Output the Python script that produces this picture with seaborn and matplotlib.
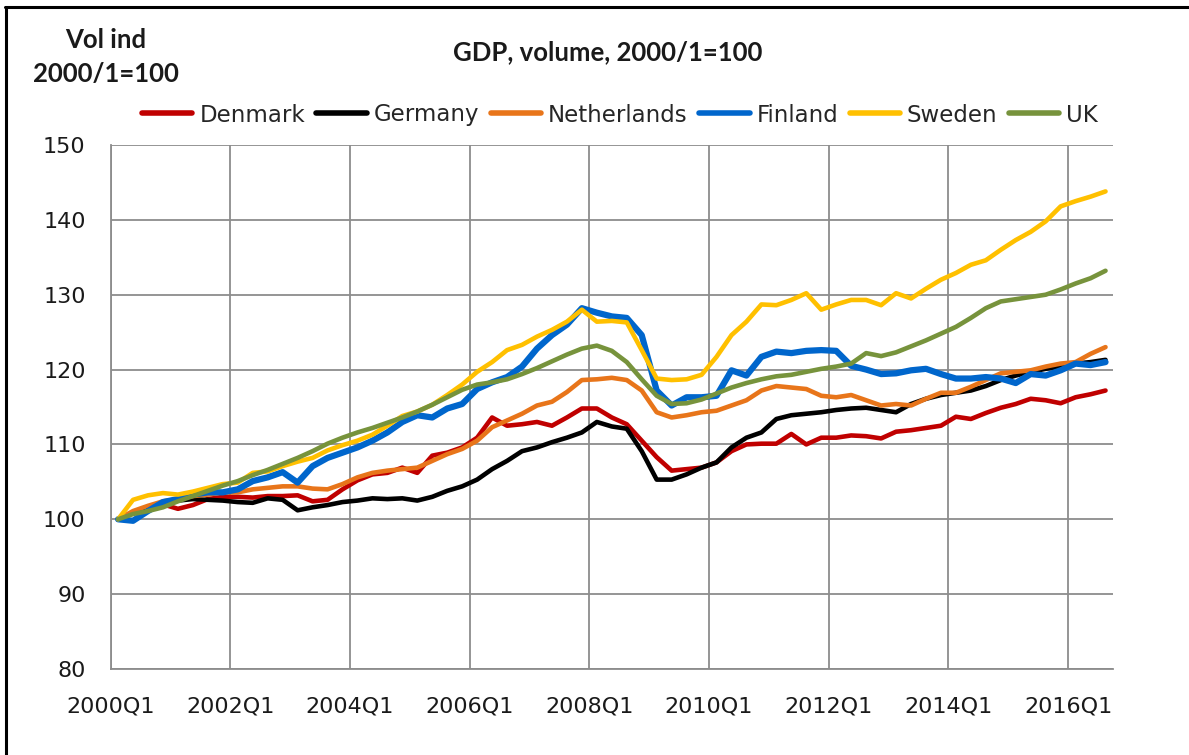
import numpy as np
import pandas as pd
import matplotlib.pyplot as plt
import matplotlib.transforms as mtransforms
from matplotlib.lines import Line2D
from matplotlib.ticker import FixedLocator
import seaborn as sns

# quarterly categories 2000Q1 .. 2016Q3
quarters = [f"{y}Q{q}" for y in range(2000, 2017) for q in range(1, 5)][:67]

countries = ['Denmark', 'Germany', 'Netherlands', 'Finland', 'Sweden', 'UK']

denmark = [100, 100.9, 101.6, 102, 101.4, 101.9, 102.7, 103, 103, 102.9,
           103.1, 103.1, 103.2, 102.4, 102.6, 104, 105.2, 106, 106.2, 106.9,
           106.2, 108.5, 108.9, 109.6, 110.9, 113.6, 112.5, 112.7, 113, 112.5,
           113.6, 114.8, 114.8, 113.6, 112.7, 110.5, 108.3, 106.5, 106.7, 106.9,
           107.6, 109.1, 110, 110.1, 110.1, 111.4, 110, 110.9, 110.9, 111.2,
           111.1, 110.8, 111.7, 111.9, 112.2, 112.5, 113.7, 113.4, 114.2, 114.9,
           115.4, 116.1, 115.9, 115.5, 116.3, 116.7, 117.2]
germany = [100, 100.8, 101.5, 102.2, 102.5, 102.7, 102.6, 102.5, 102.3, 102.2,
           102.8, 102.6, 101.2, 101.6, 101.9, 102.3, 102.5, 102.8, 102.7, 102.8,
           102.5, 103, 103.8, 104.4, 105.3, 106.7, 107.8, 109.1, 109.6, 110.3,
           110.9, 111.6, 113, 112.4, 112.1, 109.1, 105.3, 105.3, 106, 106.9,
           107.6, 109.6, 110.9, 111.6, 113.4, 113.9, 114.1, 114.3, 114.6, 114.8,
           114.9, 114.6, 114.3, 115.4, 116.1, 116.6, 116.9, 117.2, 117.8, 118.6,
           119.2, 119.7, 120.1, 120.4, 120.8, 121, 121.3]
netherlands = [100, 101.1, 101.8, 102.4, 102.7, 103.1, 103.3, 103.6, 103.6, 104,
               104.2, 104.4, 104.4, 104.1, 104, 104.7, 105.6, 106.2, 106.5, 106.7,
               106.9, 107.8, 108.7, 109.4, 110.5, 112.3, 113.2, 114.1, 115.2, 115.7,
               117, 118.6, 118.7, 118.9, 118.6, 117.2, 114.3, 113.6, 113.9, 114.3,
               114.5, 115.2, 115.9, 117.2, 117.8, 117.6, 117.4, 116.5, 116.3, 116.6,
               115.9, 115.2, 115.4, 115.2, 116.1, 116.9, 116.9, 117.7, 118.6, 119.5,
               119.7, 119.9, 120.4, 120.8, 121, 122.1, 123]
finland = [100, 99.8, 101.1, 102.3, 102.7, 103.3, 103.6, 103.6, 104, 105.1,
           105.6, 106.3, 104.9, 107.1, 108.2, 108.9, 109.6, 110.5, 111.6, 113,
           113.9, 113.6, 114.8, 115.4, 117.4, 118.3, 119, 120.4, 122.8, 124.6,
           126, 128.2, 127.6, 127.1, 126.9, 124.6, 117.2, 115.2, 116.3, 116.3,
           116.5, 119.9, 119.2, 121.7, 122.4, 122.2, 122.5, 122.6, 122.5, 120.5,
           120, 119.4, 119.5, 119.9, 120.1, 119.4, 118.8, 118.8, 119, 118.8,
           118.2, 119.4, 119.2, 119.9, 120.8, 120.6, 121]
sweden = [100, 102.6, 103.2, 103.5, 103.3, 103.7, 104.2, 104.7, 104.9, 106.2,
          106.4, 107.1, 107.7, 108.2, 109.2, 109.9, 110.5, 111.3, 112.5, 113.8,
          114.4, 115.3, 116.6, 118, 119.7, 121, 122.6, 123.3, 124.4, 125.3,
          126.4, 128, 126.4, 126.5, 126.3, 122.6, 118.8, 118.6, 118.7, 119.3,
          121.7, 124.6, 126.4, 128.7, 128.6, 129.3, 130.2, 128, 128.7, 129.3,
          129.3, 128.6, 130.2, 129.5, 130.8, 132, 132.9, 134, 134.6, 136,
          137.3, 138.4, 139.8, 141.8, 142.5, 143.1, 143.8]
uk = [100, 100.7, 101.1, 101.6, 102.4, 103.1, 103.8, 104.5, 105.1, 105.9,
      106.6, 107.4, 108.2, 109.1, 110.1, 110.9, 111.6, 112.2, 112.9, 113.6,
      114.4, 115.3, 116.3, 117.3, 118, 118.3, 118.7, 119.4, 120.2, 121.1,
      122, 122.8, 123.2, 122.5, 121, 118.7, 116.5, 115.4, 115.5, 116,
      116.8, 117.6, 118.2, 118.7, 119.1, 119.3, 119.7, 120.1, 120.4, 120.8,
      122.2, 121.8, 122.3, 123.1, 123.9, 124.8, 125.7, 126.9, 128.2, 129.1,
      129.4, 129.7, 130, 130.7, 131.5, 132.2, 133.2]

colors = {'Denmark': '#C00000', 'Germany': '#000000', 'Netherlands': '#E8751A',
          'Finland': '#0066CC', 'Sweden': '#FFC000', 'UK': '#77933C'}
widths = {'Denmark': 3.3, 'Germany': 3.3, 'Netherlands': 3.3,
          'Finland': 4.5, 'Sweden': 3.3, 'UK': 3.3}

series = [denmark, germany, netherlands, finland, sweden, uk]
frames = []
for name, vals in zip(countries, series):
    # points sit in the middle of each quarter (Excel "between tick marks")
    frames.append(pd.DataFrame({'pos': np.arange(len(vals)) + 0.5,
                                'value': vals, 'country': name}))
df = pd.concat(frames, ignore_index=True)

sns.set_style('white')
plt.rcParams['font.family'] = ['DejaVu Sans']

fig = plt.figure(figsize=(11.89, 7.55), dpi=100)
ax = fig.add_axes([110.6 / 1189, 1 - 669 / 755, (1113 - 110.6) / 1189, (669 - 145) / 755])

sns.lineplot(data=df, x='pos', y='value', hue='country', hue_order=countries,
             palette=colors, size='country', sizes=widths, size_order=countries,
             errorbar=None, legend=False, ax=ax)

ax.set_xlim(0, 67)
ax.set_ylim(80, 150)
ax.set_yticks(range(80, 151, 10))
ax.set_xlabel('')
ax.set_ylabel('')

major = list(range(0, 67, 8))
ax.xaxis.set_major_locator(FixedLocator(major))
ax.set_xticklabels([quarters[i] for i in major])
ax.xaxis.set_minor_locator(FixedLocator([4, 12, 20, 28, 36, 44, 52, 60]))

# labels belong to the quarter, gridlines to the boundary
shift = mtransforms.ScaledTranslation(7.5 / 100, 0, fig.dpi_scale_trans)
for lab in ax.get_xticklabels():
    lab.set_transform(lab.get_transform() + shift)

grid_col = '#8c8c8c'
ax.grid(True, which='major', color=grid_col, linewidth=1.3)
ax.set_axisbelow(True)
ax.tick_params(axis='x', which='major', length=0, pad=20, labelsize=16, labelcolor='#1a1a1a')
ax.tick_params(axis='x', which='minor', direction='in', length=5, width=1.2, color=grid_col)
ax.tick_params(axis='y', length=0, pad=18, labelsize=16, labelcolor='#1a1a1a')
for side in ['top', 'right']:
    ax.spines[side].set_visible(False)
for side in ['left', 'bottom']:
    ax.spines[side].set_color(grid_col)
    ax.spines[side].set_linewidth(1.3)

handles = [Line2D([], [], color=colors[c], lw=4) for c in countries]
fig.legend(handles, countries, loc='center', bbox_to_anchor=(620 / 1189, 1 - 115 / 755),
           ncol=6, frameon=False, fontsize=16.5, handlelength=2.2, handletextpad=0.3,
           columnspacing=0.5, labelcolor='#262626')

bold = dict(family=['Lato', 'DejaVu Sans'], fontweight='bold', fontsize=18.5, color='#1a1a1a')
fig.text(608 / 1189, 1 - 60 / 755, 'GDP, volume, 2000/1=100', ha='center', va='baseline', **bold)
fig.text(106 / 1189, 1 - 48 / 755, 'Vol ind', ha='center', va='baseline', **bold)
fig.text(106 / 1189, 1 - 82 / 755, '2000/1=100', ha='center', va='baseline', **bold)

# outer frame of the original screenshot
fig.add_artist(Line2D([5 / 1189, 1], [1 - 7 / 755] * 2, transform=fig.transFigure,
                      color='black', lw=2.2))
fig.add_artist(Line2D([6 / 1189] * 2, [0, 1 - 7 / 755], transform=fig.transFigure,
                      color='black', lw=2.2))

fig.savefig('out.png', dpi=100)
